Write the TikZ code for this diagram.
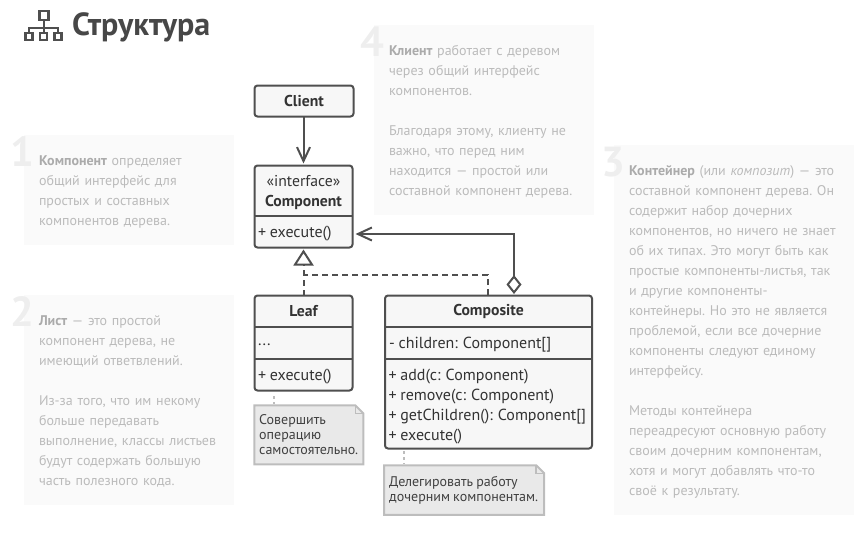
\documentclass[tikz,border=0pt]{standalone}
\usepackage{fontspec}
\setmainfont[WordSpace=0.85]{PT Sans}
\usetikzlibrary{positioning,calc,arrows.meta}
\definecolor{linegray}{HTML}{4F4F4F}
\definecolor{boxfill}{HTML}{F7F7F7}
\definecolor{notefill}{HTML}{E9E9E9}
\definecolor{noteline}{HTML}{BDBDBD}
\definecolor{panelfill}{HTML}{FAFAFA}
\definecolor{paneltext}{HTML}{BBBBBB}
\definecolor{panelbold}{HTML}{ABABAB}
\definecolor{digitgray}{HTML}{EEEEEE}
\newcommand{\leadword}[1]{\textcolor{panelbold}{\textbf{#1}}}
\tikzset{
	panel/.style={anchor=north west, inner xsep=15pt, inner ysep=0pt, outer sep=0pt, align=left, text=paneltext, font=\fontsize{14}{20}\selectfont\frenchspacing},
	digit/.style={anchor=base east, text=digitgray, font=\fontsize{42}{42}\selectfont\bfseries, inner sep=0pt},
	classbox/.style={draw=linegray, fill=boxfill, line width=2pt, rounded corners=3pt, inner sep=0pt, outer sep=0pt},
	classtitle/.style={font=\fontsize{15.7}{20}\selectfont\bfseries, text=black!80, inner sep=0pt},
	classtext/.style={anchor=west, font=\fontsize{16}{20}\selectfont, text=black!80, inner sep=0pt},
	notebox/.style={inner sep=0pt, outer sep=0pt},
	notefold/.style={draw=noteline, fill=notefill, line width=2pt},
	notetext/.style={anchor=north west, align=left, font=\fontsize{14}{15}\selectfont, text=black!75, inner sep=0pt},
	noteline/.style={draw=noteline, line width=2pt},
	assoc/.style={draw=linegray, line width=2pt, -{Straight Barb[length=14pt,width=13pt,line width=2pt]}},
	realize/.style={draw=linegray, line width=2pt, dash pattern=on 6pt off 4pt},
}
\begin{document}
\begin{tikzpicture}[x=1pt, y=-1pt]
	\useasboundingbox (0,0) rectangle (865,550);

	% title
	\node[anchor=west, inner sep=0pt, text=black!72, font=\fontsize{32}{32}\selectfont\bfseries] (title) at (72,27) {Структура};
	\draw[linegray, line width=2.5pt] (39.5,11) rectangle (48.5,20);
	\draw[linegray, line width=2.5pt] (25.5,33) rectangle (32.5,40);
	\draw[linegray, line width=2.5pt] (40,33) rectangle (47,40);
	\draw[linegray, line width=2.5pt] (54.5,33) rectangle (61.5,40);
	\draw[linegray, line width=2pt] (29,33) -- (29,27.5) -- (58,27.5) -- (58,33);
	\draw[linegray, line width=2pt] (43.5,20) -- (43.5,33);

	% notes on grey panels
	\fill[panelfill] (24,135) rectangle (234,245);
	\fill[panelfill] (24,295) rectangle (234,505);
	\fill[panelfill] (614,145) rectangle (854,515);
	\fill[panelfill] (374,25) rectangle (594,215);
	\node[digit] (digit1) at (35,166) {1};
	\node[digit] (digit2) at (35,326) {2};
	\node[digit] (digit3) at (626,176) {3};
	\node[digit] (digit4) at (385,56) {4};
	\node[panel, text width=180pt, minimum height=110pt] (panel1) at (24,137) {\leadword{Компонент} определяет\\общий интерфейс для\\простых и составных\\компонентов дерева.};
	\node[panel, text width=180pt, minimum height=210pt] (panel2) at (24,296) {\leadword{Лист} — это простой\\компонент дерева, не\\имеющий ответвлений.\\[20pt]Из-за того, что им некому\\больше передавать\\выполнение, классы листьев\\будут содержать большую\\часть полезного кода.};
	\node[panel, text width=210pt, minimum height=370pt] (panel3) at (614,147) {\leadword{Контейнер} (или \textit{композит}) — это\\составной компонент дерева. Он\\содержит набор дочерних\\компонентов, но ничего не знает\\об их типах. Это могут быть как\\простые компоненты-листья, так\\и другие компоненты-\\контейнеры. Но это не является\\проблемой, если все дочерние\\компоненты следуют единому\\интерфейсу.\\[20pt]Методы контейнера\\переадресуют основную работу\\своим дочерним компонентам,\\хотя и могут добавлять что-то\\своё к результату.};
	\node[panel, text width=190pt, minimum height=190pt] (panel4) at (374,27) {\leadword{Клиент} работает с деревом\\через общий интерфейс\\компонентов.\\[20pt]Благодаря этому, клиенту не\\важно, что перед ним\\находится — простой или\\составной компонент дерева.};

	% classes
	\node[classbox, minimum width=99pt, minimum height=31pt] (client) at (304,101) {};
	\node[classtitle] (clientname) at (client) {Client};

	\node[classbox, minimum width=98pt, minimum height=82pt] (component) at (303.5,206.5) {};
	\draw[classbox, rounded corners=0pt] (component.west |- 0,216) -- (component.east |- 0,216);
	\node[font=\fontsize{15.7}{20}\selectfont, text=black!80, inner sep=0pt] (stereotype) at (303.5,181) {«interface»};
	\node[classtitle] (componentname) at (303.5,202.5) {Component};
	\node[classtext] (componentop) at (258,233.5) {+ execute()};

	\node[classbox, minimum width=98pt, minimum height=95pt] (leaf) at (303.5,343) {};
	\draw[classbox, rounded corners=0pt] (leaf.west |- 0,326.5) -- (leaf.east |- 0,326.5);
	\draw[classbox, rounded corners=0pt] (leaf.west |- 0,358.5) -- (leaf.east |- 0,358.5);
	\node[classtitle] (leafname) at (303.5,311) {Leaf};
	\node[classtext] (leaffield) at (258,344.5) {...};
	\node[classtext] (leafop) at (258,376.5) {+ execute()};

	\node[classbox, minimum width=207pt, minimum height=153pt] (composite) at (488.5,372) {};
	\draw[classbox, rounded corners=0pt] (composite.west |- 0,326.5) -- (composite.east |- 0,326.5);
	\draw[classbox, rounded corners=0pt] (composite.west |- 0,358.5) -- (composite.east |- 0,358.5);
	\node[classtitle] (compositename) at (488.5,311.5) {Composite};
	\node[classtext] (compositefield) at (389,344.5) {- children: Component[]};
	\node[classtext] (compositeop1) at (388.5,376.5) {+ add(c: Component)};
	\node[classtext, below=20pt of compositeop1.west, anchor=west] (compositeop2) {+ remove(c: Component)};
	\node[classtext, below=20pt of compositeop2.west, anchor=west] (compositeop3) {+ getChildren(): Component[]};
	\node[classtext, below=20pt of compositeop3.west, anchor=west] (compositeop4) {+ execute()};

	% note boxes
	\node[notebox, minimum width=109pt, minimum height=59pt] (leafnote) at (308.8,434.8) {};
	\node[notebox, minimum width=160pt, minimum height=49.5pt] (compositenote) at (464.2,490) {};
	\foreach \noteid in {leafnote, compositenote} {
		\draw[notefold] (\noteid.north west) -- ($(\noteid.north east)+(-8,0)$) -- ($(\noteid.north east)+(0,8)$) -- (\noteid.south east) -- (\noteid.south west) -- cycle;
		\draw[noteline, line width=1.5pt] ($(\noteid.north east)+(-8,0)$) -- ($(\noteid.north east)+(-8,8)$) -- ($(\noteid.north east)+(0,8)$);
	}
	\node[notetext] (leafnotetext) at (259,414) {Совершить\\операцию\\самостоятельно.};
	\node[notetext] (compositenotetext) at (389,476) {Делегировать работу\\дочерним компонентам.};
	\draw[noteline, dash pattern=on 3pt off 3pt] (274,396) -- (274,404) coordinate (leafnotetip);
	\draw[noteline, dash pattern=on 3pt off 3pt] (404,451) -- (404,464) coordinate (compositenotetip);

	% connectors
	\coordinate (diamondfoot) at (514,294);
	\coordinate (dashfoot) at (488,295);
	\coordinate (dashcorner) at (303.5,275);
	\draw[assoc, shorten >=2pt] (client.south -| component.north) -- (component.north);
	\draw[draw=linegray, line width=2pt, {Diamond[open,length=19pt,width=15pt,line width=2pt]}-{Straight Barb[length=14pt,width=13pt,line width=2pt]}, shorten >=3pt] (diamondfoot) |- (component.east |- 0,234);
	\draw[realize, -{Triangle[open,fill=white,length=16pt,width=20pt,line width=2pt]}, shorten >=2pt] (leaf.north) -- (component.south);
	\draw[realize] (dashfoot) |- (dashcorner);
\end{tikzpicture}
\end{document}
